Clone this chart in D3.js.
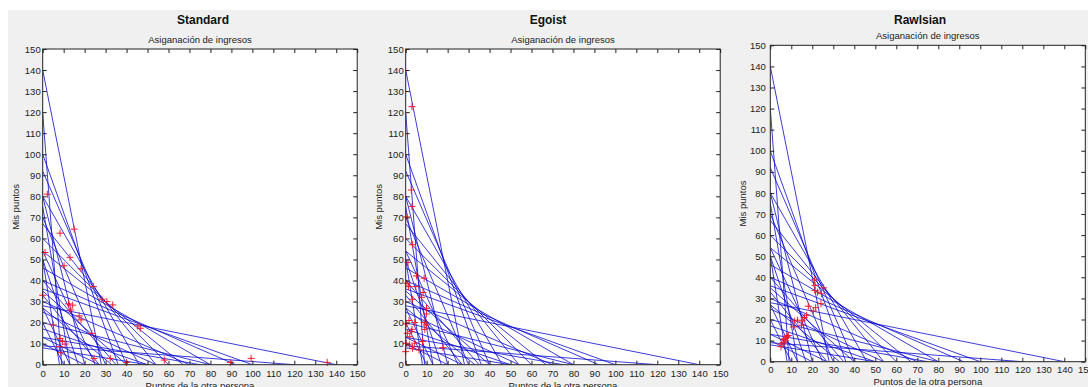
<!DOCTYPE html>
<html><head><meta charset="utf-8">
<script src="https://cdn.jsdelivr.net/npm/d3@7"></script>
<style>
body{margin:0;background:#fff;}
svg{display:block}
text{font-family:"Liberation Sans",Arial,sans-serif;}
</style>
</head><body>
<svg id="chart" width="1088" height="387"></svg>
<script>
// ---------- data ----------
const panelTitles = ["Standard", "Egoist", "Rawlsian"];
const subTitle = "Asiganación de ingresos";
const xLabel = "Puntos de la otra persona";
const yLabel = "Mis puntos";
const tickValues = [0,10,20,30,40,50,60,70,80,90,100,110,120,130,140,150];

// budget lines: intercept on "Mis puntos" axis and on "Puntos de la otra persona" axis
const budgetSelf  = [140, 28, 100, 36, 92, 40, 80, 46, 67, 54, 60,
                     80, 20, 54, 25, 40, 35, 70, 30,
                     120, 9, 75, 13, 50, 17, 33, 27,
                     50, 8, 27, 13, 20, 10];
const budgetOther = [28, 140, 36, 100, 40, 92, 46, 80, 54, 67, 60,
                     20, 80, 25, 54, 35, 40, 30, 70,
                     9, 120, 13, 75, 17, 50, 27, 33,
                     8, 50, 13, 27, 10, 20];

// chosen allocations (other, self)
const standardOther = [2.2,8.3,15,1.1,13,10.2,18.3,24.2,0,28.2,30.6,33.4,12.3,14.3,13.4,17.4,18.3,5.1,45.4,46.5,23.4,8.3,9.4,10.7,8,8.8,24.5,32.2,40,58,89.5,99.4,135.7];
const standardSelf  = [81,62.5,64.4,53.3,51,47,45.6,37.1,33,31.1,30,28.4,28.9,28.3,26,23.2,21.3,18.9,18.4,17.3,14.9,12.5,11,9.8,8.6,5.7,3,3,1.1,2.2,1.1,3,1.1];

const egoistOther = [3,2.7,3,0.6,3.2,1.1,5.1,8.8,0.6,1.3,4.8,8.3,7.6,3.2,9.9,9.9,1.6,4.3,8.8,9.9,9.1,0.3,0.8,1.9,3,2.7,0.3,1.9,4.3,8,3.2,6.4,17.8,0];
const egoistSelf  = [122.6,83,75.2,70.2,57,48.6,42.2,41.1,38.7,37.1,37.1,34.3,32,31.1,26.8,24.1,21,20,20,18.9,16.8,19.4,14.9,13.3,16.8,15.7,10.2,9.4,10.2,11,7.8,7,8.1,6.2];

const rawlsOther = [21,21.3,21.3,22.5,24.4,25.4,24.1,21.6,20.5,18.1,17.3,16.2,15.2,14.9,13,11.4,11,8.6,7.8,7,7.3,6.2,5.4,5.1,8,6.5];
const rawlsSelf  = [38.8,36.2,33.8,33,32.2,35,27.5,25.6,24,26.3,22,20.9,19.3,17.3,19.7,19.3,16.5,12.4,11.8,11,9.9,9,8.3,7.1,12.2,10.5];

const panelOthers = [standardOther, egoistOther, rawlsOther];
const panelSelves = [standardSelf, egoistSelf, rawlsSelf];

// ---------- layout ----------
const layout = [
  {left:42.7, top:49, w:314.5, h:315.7, titleX:203, titleY:23.5, subY:42.5, ytPad:2, xtBase:376.7, xlBase:388.5},
  {left:405.7, top:49, w:314.5, h:315.7, titleX:548, titleY:23.5, subY:42.5, ytPad:2, xtBase:376.7, xlBase:388.5},
  {left:770.3, top:45.3, w:315, h:316.4, titleX:920, titleY:23.5, subY:38.5, ytPad:4.5, xtBase:373.3, xlBase:384.5}
];

const svg = d3.select("#chart");
svg.append("rect").attr("x",8).attr("y",10).attr("width",1080).attr("height",377).attr("fill","#f0f0f0");

layout.forEach((L, p) => {
  const x = d3.scaleLinear().domain([0,150]).range([0, L.w]);
  const y = d3.scaleLinear().domain([0,150]).range([L.h, 0]);
  const g = svg.append("g").attr("transform", `translate(${L.left},${L.top})`);

  g.append("rect").attr("width", L.w).attr("height", L.h).attr("fill", "#fff");

  const clipId = "clip" + p;
  g.append("clipPath").attr("id", clipId).append("rect").attr("width", L.w).attr("height", L.h);

  const lines = g.append("g").attr("clip-path", `url(#${clipId})`);
  lines.selectAll("line").data(d3.range(budgetSelf.length)).join("line")
    .attr("x1", x(0)).attr("y1", i => y(budgetSelf[i]))
    .attr("x2", i => x(budgetOther[i])).attr("y2", y(0))
    .attr("stroke", "#0a0ad0").attr("stroke-width", 0.8);

  const ox = panelOthers[p], sy = panelSelves[p];
  const m = g.append("g");
  m.selectAll("path").data(d3.range(ox.length)).join("path")
    .attr("d", i => {
      const cx = x(ox[i]), cy = y(sy[i]), r = 3.5;
      return `M${cx-r},${cy}H${cx+r}M${cx},${cy-r}V${cy+r}`;
    })
    .attr("stroke", "#ee1c2e").attr("stroke-width", 1).attr("fill", "none");

  // axes with MATLAB-style inward ticks
  const fmt = d3.format("d");
  const ax = g.append("g").attr("transform", `translate(0,${L.h})`)
    .call(d3.axisBottom(x).tickValues(tickValues).tickSizeInner(-4).tickSizeOuter(0).tickPadding(0).tickFormat(fmt));
  ax.selectAll("text").attr("y", L.xtBase - L.top - L.h).attr("dy", 0);
  const ay = g.append("g")
    .call(d3.axisLeft(y).tickValues(tickValues).tickSizeInner(-4).tickSizeOuter(0).tickPadding(L.ytPad).tickFormat(fmt));
  const at = g.append("g")
    .call(d3.axisTop(x).tickValues(tickValues).tickSizeInner(-4).tickSizeOuter(0).tickFormat(""));
  const ar = g.append("g").attr("transform", `translate(${L.w},0)`)
    .call(d3.axisRight(y).tickValues(tickValues).tickSizeInner(-4).tickSizeOuter(0).tickFormat(""));
  [ax, ay, at, ar].forEach(a => {
    a.select(".domain").remove();
    a.selectAll("line").attr("stroke", "#222");
    a.selectAll("text").attr("fill", "#222").style("font-size", "9.5px").style("font-family", '"Liberation Sans",Arial,sans-serif');
  });

  g.append("rect").attr("width", L.w).attr("height", L.h).attr("fill", "none").attr("stroke", "#222").attr("stroke-width", 1);

  // texts
  svg.append("text").attr("x", L.titleX).attr("y", L.titleY).attr("text-anchor", "middle")
    .style("font-size", "12px").style("font-weight", "bold").attr("fill", "#111").text(panelTitles[p]);
  svg.append("text").attr("x", L.left + L.w/2).attr("y", L.subY).attr("text-anchor", "middle")
    .style("font-size", "9.5px").attr("fill", "#222").text(subTitle);
  svg.append("text").attr("x", L.left + L.w/2).attr("y", L.xlBase).attr("text-anchor", "middle")
    .style("font-size", "9.5px").attr("fill", "#222").text(xLabel);
  svg.append("text").attr("transform", `translate(${L.left - 24},${L.top + L.h/2}) rotate(-90)`).attr("text-anchor", "middle")
    .style("font-size", "9.5px").attr("fill", "#222").text(yLabel);
});
</script>
</body></html>
